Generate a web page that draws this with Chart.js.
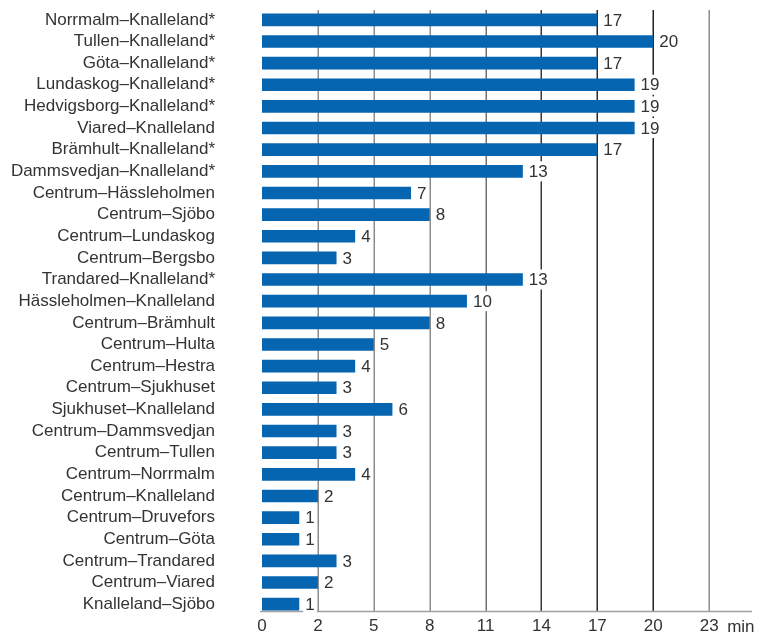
<!DOCTYPE html>
<html>
<head>
<meta charset="utf-8">
<script src="https://cdn.jsdelivr.net/npm/chart.js@4"></script>
<style>
  html, body { margin: 0; padding: 0; background: #fff; }
  #wrap { position: relative; width: 758px; height: 634px; }
</style>
</head>
<body>
<div id="wrap"><canvas id="chart"></canvas></div>
<script>
// route labels, top to bottom
const routes = [
    'Norrmalm–Knalleland*', 'Tullen–Knalleland*', 'Göta–Knalleland*', 'Lundaskog–Knalleland*',
    'Hedvigsborg–Knalleland*', 'Viared–Knalleland', 'Brämhult–Knalleland*', 'Dammsvedjan–Knalleland*',
    'Centrum–Hässleholmen', 'Centrum–Sjöbo', 'Centrum–Lundaskog', 'Centrum–Bergsbo',
    'Trandared–Knalleland*', 'Hässleholmen–Knalleland', 'Centrum–Brämhult', 'Centrum–Hulta',
    'Centrum–Hestra', 'Centrum–Sjukhuset', 'Sjukhuset–Knalleland', 'Centrum–Dammsvedjan',
    'Centrum–Tullen', 'Centrum–Norrmalm', 'Centrum–Knalleland', 'Centrum–Druvefors',
    'Centrum–Göta', 'Centrum–Trandared', 'Centrum–Viared', 'Knalleland–Sjöbo'
];

// travel time in minutes
const minutes = [17, 20, 17, 19, 19, 19, 17, 13, 7, 8, 4, 3, 13, 10, 8, 5, 4, 3, 6, 3, 3, 4, 2, 1, 1, 3, 2, 1];

// x axis: gridline positions and the labels printed under them
const tickValues = [-1, 2, 5, 8, 11, 14, 17, 20, 23];
const tickLabels = ['0', '2', '5', '8', '11', '14', '17', '20', '23'];
const unitLabel = 'min';

const FONT = "'Liberation Sans', Arial, sans-serif";
const TEXT = '#333333';
const BAR = '#0565b1';
const gridColors = [null, '#8c8c8c', '#8c8c8c', '#8c8c8c', '#707070', '#3a3a3a', '#2a2a2a', '#222', '#8c8c8c'];
const GRID_TOP = 10;
const AXIS_Y = 611.5;

// vertical gridlines, drawn under the bars, ending at the axis line
const gridLines = {
    id: 'gridLines',
    beforeDatasetsDraw(chart) {
        const ctx = chart.ctx;
        const xs = chart.scales.x;
        ctx.save();
        ctx.lineWidth = 1.5;
        tickValues.forEach((v, i) => {
            if (!gridColors[i]) return;
            const x = Math.round(xs.getPixelForValue(v)) + 0.25;
            ctx.strokeStyle = gridColors[i];
            ctx.beginPath();
            ctx.moveTo(x, GRID_TOP);
            ctx.lineTo(x, AXIS_Y);
            ctx.stroke();
        });
        ctx.strokeStyle = '#a0a0a0';
        ctx.beginPath();
        ctx.moveTo(chart.chartArea.left - 2, AXIS_Y);
        ctx.lineTo(chart.chartArea.right, AXIS_Y);
        ctx.stroke();
        ctx.restore();
    }
};

const valueLabels = {
    id: 'valueLabels',
    afterDatasetsDraw(chart) {
        const ctx = chart.ctx;
        const meta = chart.getDatasetMeta(0);
        ctx.save();
        ctx.font = '17px ' + FONT;
        ctx.textBaseline = 'middle';
        ctx.textAlign = 'left';
        meta.data.forEach((bar, i) => {
            const txt = String(minutes[i]);
            const w = ctx.measureText(txt).width;
            const x = bar.x + 6;
            ctx.fillStyle = '#fff';
            ctx.fillRect(x - 2, bar.y - 10, w + 4, 20);
            ctx.fillStyle = TEXT;
            ctx.fillText(txt, x, bar.y + 1);
        });
        ctx.restore();
    }
};

const unitText = {
    id: 'unitText',
    afterDraw(chart) {
        const ctx = chart.ctx;
        const xs = chart.scales.x;
        const last = tickValues[tickValues.length - 1];
        ctx.save();
        ctx.font = '17px ' + FONT;
        ctx.fillStyle = TEXT;
        ctx.textBaseline = 'middle';
        ctx.textAlign = 'left';
        ctx.fillText(unitLabel, xs.getPixelForValue(last) + 18, 627);
        ctx.restore();
    }
};

new Chart(document.getElementById('chart'), {
    type: 'bar',
    data: {
        labels: routes,
        datasets: [{
            data: minutes,
            base: -1,
            backgroundColor: BAR,
            borderWidth: 0,
            barPercentage: 0.585,
            categoryPercentage: 1.0
        }]
    },
    options: {
        indexAxis: 'y',
        responsive: true,
        maintainAspectRatio: false,
        animation: false,
        layout: { padding: { left: 0, right: 6, top: 9, bottom: 0 } },
        plugins: { legend: { display: false }, tooltip: { enabled: false } },
        scales: {
            x: {
                type: 'linear',
                min: -1,
                max: 25.3,
                afterBuildTicks: (s) => { s.ticks = tickValues.map(v => ({ value: v })); },
                afterFit: (s) => { s.height = 19; s.paddingLeft = 0; s.paddingRight = 0; },
                ticks: {
                    autoSkip: false,
                    maxRotation: 0,
                    padding: 1,
                    color: TEXT,
                    font: { family: FONT, size: 17 },
                    callback: (v) => tickLabels[tickValues.indexOf(v)]
                },
                grid: { display: false, drawTicks: false },
                border: { display: false }
            },
            y: {
                afterFit: (s) => { s.width = 262; s.paddingTop = 0; s.paddingBottom = 0; },
                ticks: {
                    autoSkip: false,
                    padding: 47,
                    color: TEXT,
                    font: { family: FONT, size: 17 }
                },
                grid: { display: false, drawTicks: false },
                border: { display: false }
            }
        }
    },
    plugins: [gridLines, valueLabels, unitText]
});
</script>
</body>
</html>
